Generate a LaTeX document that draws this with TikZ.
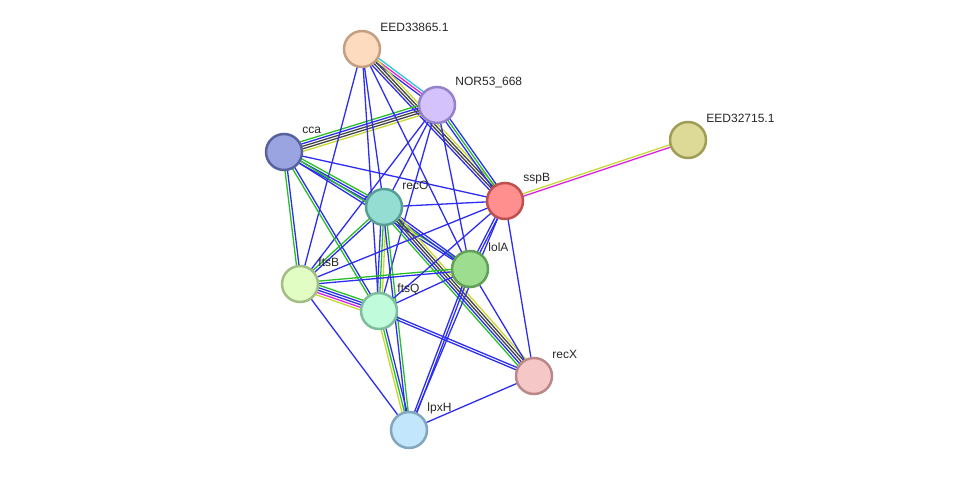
\documentclass[tikz,border=0pt]{standalone}
\usepackage{fontspec}
\setmainfont{Liberation Sans}
\usetikzlibrary{calc,backgrounds}

% line colours
\definecolor{lnblue}{RGB}{45,45,240}
\definecolor{lngreen}{RGB}{40,190,40}
\definecolor{lnblack}{RGB}{70,70,70}
\definecolor{lnyellow}{RGB}{200,215,50}
\definecolor{lnmagenta}{RGB}{220,40,220}
\definecolor{lncyan}{RGB}{40,200,210}
% node colours
\definecolor{fEthree}{RGB}{253,219,191}\definecolor{dEthree}{RGB}{196,160,128}
\definecolor{fNor}{RGB}{212,194,252}\definecolor{dNor}{RGB}{150,130,200}
\definecolor{fCca}{RGB}{154,164,224}\definecolor{dCca}{RGB}{88,98,158}
\definecolor{fEtwo}{RGB}{221,218,151}\definecolor{dEtwo}{RGB}{160,158,85}
\definecolor{fSspb}{RGB}{255,143,143}\definecolor{dSspb}{RGB}{190,80,80}
\definecolor{fReco}{RGB}{148,221,211}\definecolor{dReco}{RGB}{88,158,148}
\definecolor{fLola}{RGB}{157,221,143}\definecolor{dLola}{RGB}{98,160,88}
\definecolor{fFtsb}{RGB}{226,253,196}\definecolor{dFtsb}{RGB}{163,190,133}
\definecolor{fFtsq}{RGB}{192,252,219}\definecolor{dFtsq}{RGB}{125,189,156}
\definecolor{fRecx}{RGB}{246,199,199}\definecolor{dRecx}{RGB}{186,136,136}
\definecolor{fLpxh}{RGB}{194,231,253}\definecolor{dLpxh}{RGB}{130,167,189}

\tikzset{
  prot/.style={circle,minimum size=36pt,inner sep=0pt,line width=2.5pt},
  lbl/.style={font=\fontsize{12}{14}\selectfont,text=black!85,
    xshift=-1pt,yshift=22pt,inner sep=0pt,label distance=0pt},
  edge/.style={line width=1.3pt}
}

% parallel coloured lines between two nodes
\newcommand{\link}[3]{%
  \foreach \c [count=\k] in {#3}{\xdef\nlines{\k}}%
  \foreach \c [count=\k] in {#3}{%
    \pgfmathsetmacro{\off}{(\k-(\nlines+1)/2)*2.5}%
    \draw[edge,color=\c] ($(#1)!\off pt!90:(#2)$) -- ($(#2)!\off pt!-90:(#1)$);}}

\begin{document}
\begin{tikzpicture}[x=1pt,y=-1pt]
\useasboundingbox (0,0) rectangle (976,476);

\node[prot,fill=fEthree,draw=dEthree,label={[lbl]right:EED33865.1}] (e33) at (362,49) {};
\node[prot,fill=fNor,draw=dNor,label={[lbl]right:NOR53\_668}] (nor) at (437,105) {};
\node[prot,fill=fCca,draw=dCca,label={[lbl]right:cca}] (cca) at (284,152) {};
\node[prot,fill=fEtwo,draw=dEtwo,label={[lbl]right:EED32715.1}] (e27) at (688,140) {};
\node[prot,fill=fSspb,draw=dSspb,label={[lbl]right:sspB}] (sspb) at (505,201) {};
\node[prot,fill=fReco,draw=dReco,label={[lbl]right:recO}] (reco) at (384,207) {};
\node[prot,fill=fLola,draw=dLola,label={[lbl]right:lolA}] (lola) at (470,269) {};
\node[prot,fill=fFtsb,draw=dFtsb,label={[lbl]right:ftsB}] (ftsb) at (300,284) {};
\node[prot,fill=fFtsq,draw=dFtsq,label={[lbl]right:ftsQ}] (ftsq) at (379,311) {};
\node[prot,fill=fRecx,draw=dRecx,label={[lbl]right:recX}] (recx) at (534,376) {};
\node[prot,fill=fLpxh,draw=dLpxh,label={[lbl]right:lpxH}] (lpxh) at (409,430) {};

\begin{pgfonlayer}{background}
\link{e33}{nor}{lnblue,lnmagenta,lncyan}
\link{e33}{sspb}{lnblue,lnblack,lnblack,lnyellow}
\link{nor}{sspb}{lnblue,lngreen,lnblue}
\link{cca}{nor}{lnyellow,lnblack,lnblack,lnblue,lngreen}
\link{e33}{reco}{lnblue}
\link{e33}{ftsq}{lnblue}
\link{e33}{ftsb}{lnblue}
\link{e33}{lola}{lnblue}
\link{nor}{reco}{lnblue}
\link{nor}{ftsb}{lnblue}
\link{nor}{ftsq}{lnblue}
\link{nor}{lola}{lnblue}
\link{cca}{sspb}{lnblue}
\link{cca}{reco}{lnblue,lnblue,lngreen}
\link{cca}{ftsb}{lngreen,lnblue}
\link{cca}{ftsq}{lngreen,lnblue}
\link{cca}{lola}{lnblue,lngreen}
\link{reco}{sspb}{lnblue}
\link{reco}{lola}{lnblue,lnblue}
\link{reco}{recx}{lngreen,lnblue,lnblack,lnblack,lnyellow}
\link{reco}{ftsb}{lngreen,lnblue}
\link{reco}{ftsq}{lnblue,lngreen,lnyellow}
\link{reco}{lpxh}{lnblue,lngreen}
\link{ftsb}{ftsq}{lnyellow,lnmagenta,lnblue,lnblue,lngreen}
\link{ftsb}{lola}{lnblue,lngreen}
\link{ftsb}{sspb}{lnblue}
\link{ftsb}{lpxh}{lnblue}
\link{ftsq}{lola}{lnblue}
\link{ftsq}{sspb}{lnblue}
\link{ftsq}{recx}{lnblue,lnblue}
\link{ftsq}{lpxh}{lnyellow,lngreen,lnblue}
\link{lola}{sspb}{lnblue,lnblue}
\link{lola}{lpxh}{lnblue,lnblue}
\link{lola}{recx}{lnblue}
\link{sspb}{recx}{lnblue}
\link{sspb}{lpxh}{lnblue}
\link{sspb}{e27}{lnmagenta,lnyellow}
\link{recx}{lpxh}{lnblue}
\end{pgfonlayer}
\end{tikzpicture}
\end{document}
